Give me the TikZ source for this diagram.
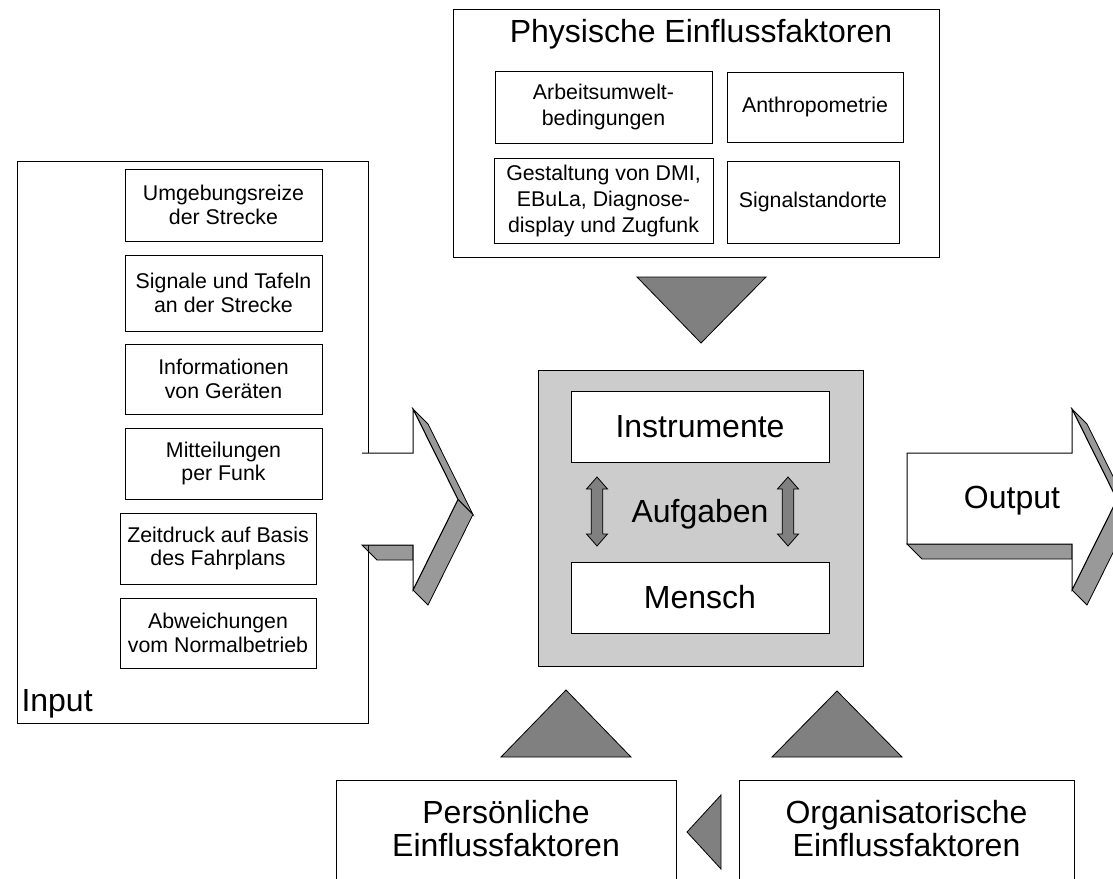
\documentclass[tikz,border=0pt]{standalone}
\usepackage{fontspec}
\setmainfont{Liberation Sans}
\definecolor{facegray}{HTML}{999999}
\definecolor{tipgray}{HTML}{808080}
\definecolor{coregray}{HTML}{CCCCCC}
\begin{document}
\begin{tikzpicture}[x=0.75pt, y=-0.75pt,
  line width=0.75pt, line join=miter,
  sz/.style 2 args={minimum width=#1*0.75pt, minimum height=#2*0.75pt},
  frame/.style={draw, inner sep=0pt},
  item/.style={frame, fill=white, font=\fontsize{16}{17.5}\selectfont, align=center},
  pitem/.style={item, font=\fontsize{16}{19.5}\selectfont},
  big/.style={font=\fontsize{24}{24.75}\selectfont, inner sep=0pt},
  face/.style={fill=facegray, draw=black, line width=0.6pt},
  wedge/.style={fill=tipgray, draw=black, line width=0.6pt},
  vdbl/.pic={\filldraw[wedge] (0,-34.5) -- (10.5,-22.5) -- (5.8,-22.5) -- (5.8,22.5)
      -- (10.5,22.5) -- (0,34.5) -- (-10.5,22.5) -- (-5.8,22.5) -- (-5.8,-22.5)
      -- (-10.5,-22.5) -- cycle;},
]
\useasboundingbox (0,0) rectangle (1113,878);
\clip (0,0) rectangle (1113,878);

% ---- input block arrow: side faces, then the frame, then the front face
\filldraw[face] (362,545) -- (413,545) -- (413,560) -- (377,560) -- cycle;
\filldraw[face] (413,409) -- (458,499.5) -- (473,514.5) -- (428,424) -- cycle;
\filldraw[face] (458,499.5) -- (413,590) -- (428,605) -- (473,514.5) -- cycle;
\node[frame, sz={351}{562}] (input) at (192.5,442) {};
\fill[white] (362,453) -- (413,453) -- (413,409) -- (458,499.5) -- (413,590)
  -- (413,545) -- (362,545) -- cycle;
\draw (362,545) -- (413,545) -- (413,590) -- (458,499.5) -- (413,409)
  -- (413,453) -- (362,453);
\node[big, anchor=base west] (inlabel) at (21,711) {Input};

\node[item, sz={197}{72}] (umg)  at (223.5,205)   {Umgebungsreize\\der Strecke};
\node[item, sz={197}{76}] (sig)  at (223.5,293)   {Signale und Tafeln\\an der Strecke};
\node[item, sz={197}{70}] (inf)  at (223.5,379)   {Informationen\\von Geräten};
\node[item, sz={197}{71}] (mit)  at (223.5,463.5) {Mitteilungen\\per Funk};
\node[item, sz={196}{71}] (zeit) at (218,548.5)   {Zeitdruck auf Basis\\des Fahrplans};
\node[item, sz={196}{70}] (abw)  at (218,633)     {Abweichungen\\vom Normalbetrieb};

% ---- physical factors
\node[frame, sz={486}{247.5}] (phys) at (696,133.25) {};
\node[big, anchor=base] (phystitle) at (701,42) {Physische Einflussfaktoren};
\node[pitem, sz={217}{72}] (arb)   at (603.5,107)   {Arbeitsumwelt-\\bedingungen};
\node[pitem, sz={176}{70}] (anth)  at (815,107)     {Anthropometrie};
\node[pitem, sz={219}{85}] (gest)  at (603.5,200.5) {Gestaltung von DMI,\\EBuLa, Diagnose-\\display und Zugfunk};
\node[pitem, sz={172}{82}] (sigst) at (813,202)     {Signalstandorte};
\filldraw[wedge] (637,277) -- (766,277) -- (701,343) -- cycle;

% ---- central system
\node[frame, fill=coregray, sz={325}{296}] (core) at (700.5,518) {};
\node[frame, big, fill=white, sz={258}{71}] (instr)  at (700,426.5) {Instrumente};
\node[frame, big, fill=white, sz={258}{71}] (mensch) at (700,597.5) {Mensch};
\node[big, anchor=base] (aufg) at (700,522) {Aufgaben};
\pic at (597,511.5) {vdbl};
\pic at (788,511.5) {vdbl};

% ---- output block arrow
\filldraw[face] (907,544) -- (1072,544) -- (1072,559) -- (922,559) -- cycle;
\filldraw[face] (1072,409) -- (1117,499.5) -- (1132,514.5) -- (1087,424) -- cycle;
\filldraw[face] (1117,499.5) -- (1072,590) -- (1087,605) -- (1132,514.5) -- cycle;
\filldraw[fill=white] (907,453) -- (1072,453) -- (1072,409) -- (1117,499.5)
  -- (1072,590) -- (1072,544) -- (907,544) -- cycle;
\node[big, anchor=base] (outlabel) at (1012,508) {Output};

% ---- personal and organisational factors
\filldraw[wedge] (501,757) -- (631,757) -- (566,690) -- cycle;
\filldraw[wedge] (772,757) -- (902,757) -- (837,691) -- cycle;
\node[frame, sz={340}{130}] (pers) at (506,845) {};
\node[big, align=center] (perstext) at (506,829) {Persönliche\\Einflussfaktoren};
\filldraw[wedge] (721,795) -- (721,869) -- (687,832) -- cycle;
\node[frame, sz={335}{130}] (org) at (906.5,845) {};
\node[big, align=center] (orgtext) at (906.5,829) {Organisatorische\\Einflussfaktoren};
\end{tikzpicture}
\end{document}
